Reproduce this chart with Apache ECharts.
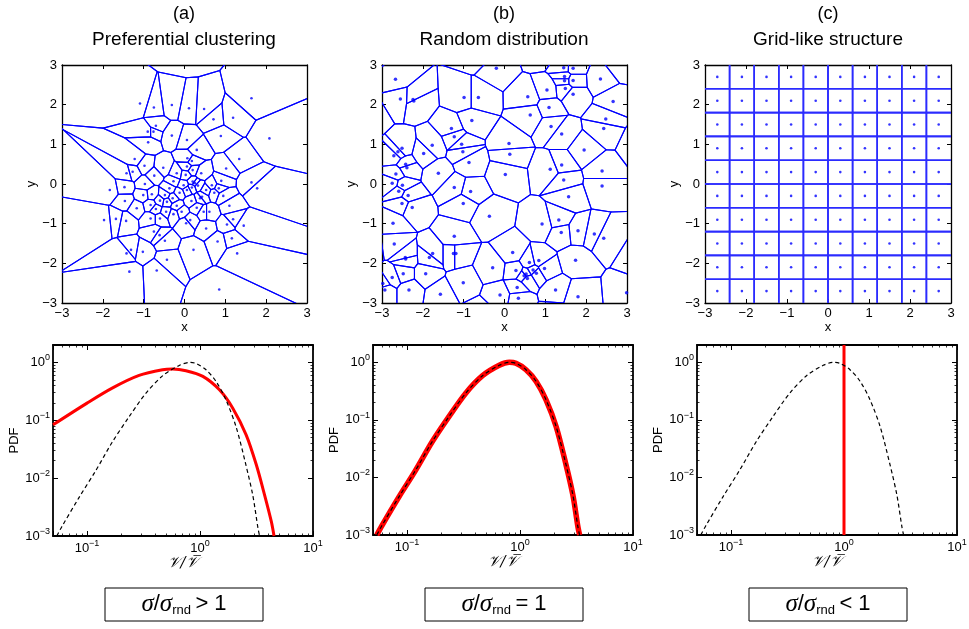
<!DOCTYPE html>
<html>
<head>
<meta charset="utf-8">
<script src="https://cdn.jsdelivr.net/npm/echarts@6/dist/echarts.min.js"></script>
<style>
html, body { margin: 0; background: #fff; }
#chart { width: 969px; height: 629px; }
</style>
</head>
<body>
<div id="chart"></div>
<script>
// ---- data ----
const panelLetters = ['(a)', '(b)', '(c)'];
const panelTitles = ['Preferential clustering', 'Random distribution', 'Grid-like structure'];
const ratioSigns = ['>', '=', '<'];

// seed points of the Voronoi tessellations (a few lie just outside the window)
const clusterPoints = [
  [-1.09, 2.03], [-0.75, 1.93], [-0.31, 1.99], [0.11, 1.91], [0.48, 1.89], [0.71, 1.63], [1.19, 1.67], [1.64, 2.16], [0.89, 1.21], [2.08, 1.15],
  [-0.70, 1.47], [-0.90, 1.32], [-0.76, 1.32], [-0.89, 1.05], [-0.31, 1.22], [0.06, 1.11], [0.30, 0.86], [1.34, 0.63], [1.02, 0.39], [0.90, 0.08],
  [1.64, 0.04], [1.78, -0.11], [-1.22, 0.63], [-0.98, 0.46], [-1.42, 0.27], [-1.27, 0.31], [-0.52, 0.41], [-1.83, -0.15], [-1.47, -0.08], [-1.46, -0.43],
  [-1.97, -0.91], [-1.68, -0.88], [-1.43, -0.93], [-1.31, -1.66], [-1.42, -1.75], [-1.35, -2.21], [-1.02, -1.71], [-0.68, -2.18], [-0.43, -1.91], [-0.48, -1.43],
  [-0.61, -1.29], [-0.75, -1.20], [0.22, -1.66], [0.53, -1.12], [0.04, -0.99], [0.14, -0.91], [0.81, -1.45], [1.16, -1.37], [1.29, -1.75], [0.85, -2.66],
  [1.04, -1.02], [1.19, -0.89], [1.45, -1.05], [0.61, -0.70], [0.47, -0.70], [0.30, -0.60], [0.73, -0.22], [0.84, -0.11], [0.53, -0.15], [0.43, -0.32],
  [0.38, -0.36], [0.17, -0.43], [0.06, -0.15], [0.18, -0.09], [0.33, -0.04], [0.26, 0.02], [0.20, 0.06], [0.41, 0.27], [0.20, 0.35], [0.06, 0.44],
  [0.07, 0.65], [0.18, 0.58], [0.03, 0.23], [-0.19, 0.27], [-0.02, -0.03], [-0.12, -0.22], [-0.27, 0.07], [-0.37, -0.11], [-0.48, -0.28], [-0.29, -0.36],
  [-0.43, -0.45], [-0.60, -0.42], [-0.80, -0.26], [-0.70, -0.63], [-0.83, -0.53], [-0.45, -0.70], [-0.27, -0.76], [-0.83, -0.87], [-0.60, -0.87], [-0.19, -0.55],
  [-0.07, -0.70], [-0.74, 0.21], [-0.97, 0.00], [-1.01, -0.28], [-1.17, -0.61], [0.67, -0.03], [1.10, -0.55], [0.95, -0.30],
  [0.0, 3.45]
];

const randomPoints = [
  [-2.67, 2.64], [-2.55, 2.14], [-2.24, 2.13], [-2.22, 2.09], [-0.20, 2.92], [-0.99, 2.18], [-0.64, 2.18], [-0.80, 1.60], [-1.30, 1.40], [-1.23, 1.19],
  [-1.05, 1.00], [-1.02, 0.81], [-0.87, 0.54], [-1.77, 0.98], [-1.98, 0.77], [-2.51, 0.90], [-2.61, 0.81], [-2.71, 0.71], [-2.42, 0.50], [-2.39, 0.41],
  [-2.66, 0.25], [-1.62, 0.27], [-2.75, 0.02], [-2.50, -0.03], [-2.59, -0.18], [-2.36, -0.29], [-2.51, -0.49], [-2.26, -0.59], [-1.23, -0.09], [-0.83, -0.19],
  [-1.01, -0.49], [0.11, 1.02], [0.13, 0.75], [0.02, 0.24], [-0.37, -0.81], [0.57, 2.20], [0.63, 1.74], [1.04, 2.37], [1.09, 1.93], [1.14, 1.45],
  [1.40, 1.26], [1.45, 2.93], [1.68, 2.92], [1.47, 2.71], [1.47, 2.60], [1.68, 2.61], [1.49, 2.41], [1.68, 2.26], [2.35, 2.65], [2.66, 2.08],
  [2.48, 1.64], [2.43, 1.40], [1.95, 0.86], [1.12, 0.37], [1.40, 0.48], [1.45, 0.10], [1.57, -0.32], [2.39, 0.33], [2.39, -0.05], [0.92, -1.01],
  [1.33, -0.91], [1.39, -1.22], [1.80, -1.18], [2.20, -1.26], [2.43, -1.37], [1.74, -1.92], [1.80, -2.84], [1.25, -2.67], [0.98, -2.13], [0.84, -1.93],
  [0.61, -1.98], [0.70, -2.17], [0.78, -2.25], [0.53, -2.27], [0.48, -2.31], [0.56, -2.38], [0.28, -2.18], [0.20, -1.73], [-0.29, -2.11], [-0.11, -2.80],
  [0.34, -2.88], [0.31, -2.61], [2.99, -2.74], [2.84, 3.02], [-2.73, -0.99], [-2.70, -1.51], [-2.43, -1.85], [-2.42, -1.89], [-2.48, -2.26], [-2.75, -2.36],
  [-2.98, -2.51], [-2.93, -2.67], [-2.34, -2.67], [-1.93, -2.26], [-1.84, -1.85], [-1.76, -1.75], [-1.57, -2.78], [-1.23, -1.32], [-1.25, -1.75], [-1.19, -1.75],
  [-1.01, -2.49],
  [-3.3, 1.7], [-3.3, -1.6], [3.3, 1.0], [3.3, -1.9], [-0.6, 3.3], [0.9, 3.3], [-0.6, -3.3], [1.2, -3.3], [3.3, 3.3], [-3.3, 3.3], [-3.3, -3.3], [3.3, -3.3]
];

// regular lattice: same coordinates on both axes
const gridCoords = [-2.7, -2.1, -1.5, -0.9, -0.3, 0.3, 0.9, 1.5, 2.1, 2.7];

// PDF curves [v / mean v, PDF]
const randomPdf = [
  [0.054, 0.001], [0.060, 0.00146], [0.0846, 0.00456], [0.119, 0.0133], [0.167, 0.0417], [0.235, 0.114], [0.331, 0.291],
  [0.466, 0.585], [0.655, 0.887], [0.804, 1.0], [0.921, 0.96], [1.13, 0.745], [1.39, 0.466], [1.70, 0.223], [2.09, 0.076],
  [2.56, 0.0163], [2.94, 0.0049], [3.26, 0.00136], [3.37, 0.001]
];
const clusterPdf = [
  [0.05, 0.0834], [0.1, 0.198], [0.167, 0.36], [0.289, 0.596], [0.466, 0.746], [0.572, 0.767], [0.751, 0.717], [1.06, 0.573],
  [1.485, 0.336], [1.95, 0.162], [2.56, 0.056], [3.15, 0.017], [3.73, 0.0051], [4.28, 0.00177], [4.52, 0.001]
];
const gridPdf = [[1, 0.001], [1, 2]];

// ---- layout ----
const topGrids = [
  { left: 62, top: 65, width: 245, height: 238 },
  { left: 382, top: 65, width: 245, height: 238 },
  { left: 705, top: 65, width: 246, height: 238 }
];
const bottomGrids = [
  { left: 53, top: 345, width: 260, height: 191 },
  { left: 373, top: 345, width: 260, height: 190 },
  { left: 697, top: 345, width: 260, height: 190 }
];
const FONT = 'Liberation Sans';

// Voronoi cell of each seed: clip a big square by every perpendicular bisector
function clipHalf(poly, a, b, c) {
  const out = [];
  for (let k = 0; k < poly.length; k++) {
    const P = poly[k], Q = poly[(k + 1) % poly.length];
    const fp = a * P[0] + b * P[1] - c, fq = a * Q[0] + b * Q[1] - c;
    if (fp <= 0) out.push(P);
    if ((fp < 0 && fq > 0) || (fp > 0 && fq < 0)) {
      const t = fp / (fp - fq);
      out.push([P[0] + t * (Q[0] - P[0]), P[1] + t * (Q[1] - P[1])]);
    }
  }
  return out;
}
function voronoi(pts) {
  const B = 12;
  return pts.map((p, i) => {
    let poly = [[-B, -B], [B, -B], [B, B], [-B, B]];
    pts.forEach((q, j) => {
      if (i === j) return;
      const a = q[0] - p[0], b = q[1] - p[1];
      if (a === 0 && b === 0) return;
      const c = (a * (p[0] + q[0]) + b * (p[1] + q[1])) / 2;
      poly = clipHalf(poly, a, b, c);
    });
    return poly;
  });
}

const latticePoints = [];
gridCoords.forEach(y => gridCoords.forEach(x => latticePoints.push([x, y])));
const pointSets = [clusterPoints, randomPoints, latticePoints];

const minus = v => String(v).replace('-', '\u2212');
const pow10Label = v => {
  const e = Math.log10(v), r = Math.round(e);
  if (Math.abs(e - r) > 1e-6) return '';
  return '{b|10}{s|' + minus(r) + '}';
};
const powRich = {
  b: { fontFamily: FONT, fontSize: 13, color: '#000', lineHeight: 18 },
  s: { fontFamily: FONT, fontSize: 9, color: '#000', verticalAlign: 'top', lineHeight: 9 }
};
const minorLog = [];
[0.01, 0.1, 1].forEach(d => [2, 3, 4, 5, 6, 7, 8, 9].forEach(m => minorLog.push(+(d * m).toPrecision(3))));

const grids = [], xAxes = [], yAxes = [], series = [];
function addAxis(list, cfg) { list.push(cfg); return list.length - 1; }
const boxLine = w => ({ show: true, onZero: false, lineStyle: { color: '#000', width: w } });

// top row: tessellations
topGrids.forEach((g, i) => {
  const gi = grids.push(Object.assign({ outerBoundsMode: 'none' }, g)) - 1;
  const base = { gridIndex: gi, type: 'value', min: -3, max: 3, interval: 1, splitLine: { show: false },
    axisTick: { inside: true, length: 4, lineStyle: { color: '#000', width: 1 } } };
  const xi = addAxis(xAxes, Object.assign({}, base, {
    position: 'bottom', axisLine: boxLine(1.3),
    axisLabel: { formatter: minus, color: '#000', fontFamily: FONT, fontSize: 13, margin: 4 },
    name: 'x', nameLocation: 'middle', nameGap: 17,
    nameTextStyle: { color: '#000', fontFamily: FONT, fontSize: 13 }
  }));
  addAxis(xAxes, Object.assign({}, base, { position: 'top', axisLine: boxLine(1.3), axisLabel: { show: false } }));
  const yi = addAxis(yAxes, Object.assign({}, base, {
    position: 'left', axisLine: boxLine(1.3),
    axisLabel: { formatter: minus, color: '#000', fontFamily: FONT, fontSize: 13, margin: 5 },
    name: 'y', nameLocation: 'middle', nameGap: 21,
    nameTextStyle: { color: '#000', fontFamily: FONT, fontSize: 13 }
  }));
  addAxis(yAxes, Object.assign({}, base, { position: 'right', axisLine: boxLine(1.3), axisLabel: { show: false } }));

  const pts = pointSets[i];
  const cells = voronoi(pts);
  series.push({
    type: 'custom', xAxisIndex: xi, yAxisIndex: yi, clip: true, silent: true,
    data: pts,
    renderItem: (params, api) => ({
      type: 'polygon',
      shape: { points: cells[params.dataIndex].map(p => api.coord(p)) },
      style: { fill: 'none', stroke: i === 2 ? '#2b2bff' : '#0000ff', lineWidth: i === 2 ? 1.6 : 1.1 }
    })
  });
  series.push({
    type: 'scatter', xAxisIndex: xi, yAxisIndex: yi, clip: true, silent: true,
    data: pts, symbol: 'circle', symbolSize: i === 1 ? 3.5 : 2.6,
    itemStyle: { color: '#0000ff' }
  });
});

// bottom row: PDFs on log-log axes
const redCurves = [clusterPdf, randomPdf, gridPdf];
bottomGrids.forEach((g, i) => {
  const gi = grids.push(Object.assign({ outerBoundsMode: 'none' }, g)) - 1;
  const xb = { gridIndex: gi, type: 'log', logBase: 10, min: 0.05, max: 10, splitLine: { show: false } };
  const yb = { gridIndex: gi, type: 'log', logBase: 10, min: 0.001, max: 2, splitLine: { show: false } };
  const majorTick = { inside: true, length: 5, lineStyle: { color: '#000', width: 1 } };
  const minorTick = { inside: true, length: 2.5, lineStyle: { color: '#000', width: 0.8 }, customValues: minorLog };
  const xi = addAxis(xAxes, Object.assign({}, xb, {
    position: 'bottom', axisLine: boxLine(1.8), axisTick: majorTick,
    axisLabel: { formatter: pow10Label, rich: powRich, margin: 3 },
    name: '\ud835\udcb1/\ud835\udcb1\u0305', nameLocation: 'middle', nameGap: 19,
    nameTextStyle: { color: '#000', fontFamily: 'DejaVu Serif', fontStyle: 'italic', fontSize: 15 }
  }));
  addAxis(xAxes, Object.assign({}, xb, { position: 'top', axisLine: boxLine(1.8), axisTick: majorTick, axisLabel: { show: false } }));
  addAxis(xAxes, Object.assign({}, xb, { position: 'bottom', axisLine: { show: false }, axisTick: minorTick, axisLabel: { show: false } }));
  addAxis(xAxes, Object.assign({}, xb, { position: 'top', axisLine: { show: false }, axisTick: minorTick, axisLabel: { show: false } }));
  const yi = addAxis(yAxes, Object.assign({}, yb, {
    position: 'left', axisLine: boxLine(1.8), axisTick: majorTick,
    axisLabel: { formatter: pow10Label, rich: powRich, margin: 3 },
    name: 'PDF', nameLocation: 'middle', nameGap: 31,
    nameTextStyle: { color: '#000', fontFamily: FONT, fontSize: 13 }
  }));
  addAxis(yAxes, Object.assign({}, yb, { position: 'right', axisLine: boxLine(1.8), axisTick: majorTick, axisLabel: { show: false } }));
  addAxis(yAxes, Object.assign({}, yb, { position: 'left', axisLine: { show: false }, axisTick: minorTick, axisLabel: { show: false } }));
  addAxis(yAxes, Object.assign({}, yb, { position: 'right', axisLine: { show: false }, axisTick: minorTick, axisLabel: { show: false } }));

  series.push({
    type: 'line', xAxisIndex: xi, yAxisIndex: yi, data: redCurves[i], smooth: i === 2 ? false : 0.3,
    showSymbol: false, silent: true, z: 2,
    lineStyle: { color: '#ff0000', width: i === 1 ? 5.5 : 3 }
  });
  series.push({
    type: 'line', xAxisIndex: xi, yAxisIndex: yi, data: randomPdf, smooth: 0.3,
    showSymbol: false, silent: true, z: 3,
    lineStyle: { color: '#000', width: 1.2, type: [4, 3] }
  });
});

// titles and the ratio boxes
const graphic = [];
const centers = [184, 504, 828];
centers.forEach((cx, i) => {
  graphic.push({ type: 'text', x: cx, y: 14, style: { text: panelLetters[i], fontFamily: FONT, fontSize: 18, fill: '#000', align: 'center', verticalAlign: 'middle' } });
  graphic.push({ type: 'text', x: cx, y: 40, style: { text: panelTitles[i], fontFamily: FONT, fontSize: 19, fill: '#000', align: 'center', verticalAlign: 'middle' } });
  graphic.push({ type: 'rect', shape: { x: cx - 79, y: 588, width: 158, height: 33 }, style: { fill: '#fff', stroke: '#000', lineWidth: 1 } });
  graphic.push({
    type: 'text', x: cx, y: 604,
    style: {
      text: '{g|\u03c3}{n|/}{g|\u03c3}{sub|rnd}{n|\u2009' + ratioSigns[i] + ' 1}',
      align: 'center', verticalAlign: 'middle',
      rich: {
        g: { fontFamily: 'Liberation Serif', fontStyle: 'italic', fontSize: 25, lineHeight: 26, fill: '#000' },
        n: { fontFamily: FONT, fontSize: 22, lineHeight: 26, fill: '#000' },
        sub: { fontFamily: FONT, fontSize: 13, lineHeight: 10, verticalAlign: 'bottom', fill: '#000' }
      }
    }
  });
});

const chart = echarts.init(document.getElementById('chart'));
chart.setOption({
  animation: false,
  backgroundColor: '#fff',
  grid: grids,
  xAxis: xAxes,
  yAxis: yAxes,
  series: series,
  graphic: graphic
});
</script>
</body>
</html>
